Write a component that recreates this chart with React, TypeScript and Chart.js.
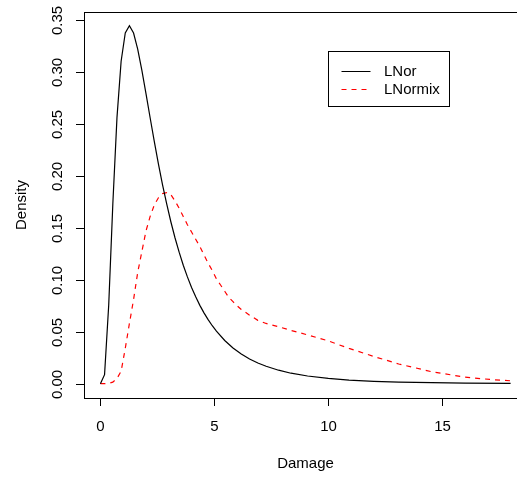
import React, { useEffect, useRef } from "react";
import { Chart, registerables } from "chart.js";

Chart.register(...registerables);

// LNor density
const lnorX = [0, 0.182, 0.364, 0.545, 0.727, 0.909, 1.091, 1.273, 1.455, 1.636, 1.818, 2.0, 2.182, 2.364, 2.545, 2.727, 2.909, 3.091, 3.273, 3.455, 3.636, 3.818, 4.0, 4.182, 4.364, 4.545, 4.727, 4.909, 5.091, 5.455, 5.818, 6.182, 6.545, 6.909, 7.273, 7.818, 8.364, 9.091, 10.0, 10.909, 12.0, 13.091, 14.545, 16.0, 18.0];
const lnorY = [0, 0.0087, 0.0755, 0.173, 0.2561, 0.3104, 0.3376, 0.3445, 0.3376, 0.3221, 0.3018, 0.2792, 0.256, 0.2333, 0.2117, 0.1915, 0.173, 0.1559, 0.1405, 0.1266, 0.114, 0.1028, 0.0926, 0.0836, 0.0754, 0.0682, 0.0617, 0.0558, 0.0506, 0.0416, 0.0344, 0.0286, 0.0238, 0.0199, 0.0168, 0.013, 0.0101, 0.0074, 0.0051, 0.0035, 0.0023, 0.0016, 0.001, 0.0006, 0.0003];

// LNormix density
const mixX = [0, 0.182, 0.364, 0.545, 0.727, 0.909, 1.091, 1.273, 1.455, 1.636, 1.818, 2.0, 2.182, 2.364, 2.545, 2.727, 2.909, 3.091, 3.273, 3.455, 3.636, 3.818, 4.0, 4.182, 4.364, 4.545, 4.727, 4.909, 5.091, 5.273, 5.455, 5.636, 5.818, 6.0, 6.182, 6.545, 6.909, 7.273, 7.818, 8.364, 9.091, 10.0, 10.909, 12.0, 13.091, 14.545, 16.0, 17.091, 18.0];
const mixY = [0, 0, 0.0003, 0.0015, 0.005, 0.012, 0.034, 0.058, 0.081, 0.107, 0.127, 0.147, 0.161, 0.172, 0.179, 0.183, 0.184, 0.182, 0.176, 0.169, 0.161, 0.153, 0.146, 0.139, 0.132, 0.124, 0.116, 0.109, 0.101, 0.095, 0.089, 0.083, 0.079, 0.075, 0.0715, 0.066, 0.061, 0.058, 0.0548, 0.0513, 0.047, 0.0412, 0.034, 0.0262, 0.019, 0.0115, 0.0063, 0.0041, 0.0028];

const seriesNames = ["LNor", "LNormix"];
const seriesColors = ["#000000", "#ff0000"];
const xTicks = [0, 5, 10, 15];
const xTickLabels = ["0", "5", "10", "15"];
const yTicks = [0, 0.05, 0.1, 0.15, 0.2, 0.25, 0.3, 0.35];
const yTickLabels = ["0.00", "0.05", "0.10", "0.15", "0.20", "0.25", "0.30", "0.35"];
const xTitle = "Damage";
const yTitle = "Density";
const legendAt = { x: 10, y: 0.32 };

export default function App() {
  const ref = useRef<HTMLCanvasElement>(null);

  useEffect(() => {
    if (!ref.current) return;
    const font = '15px "Liberation Sans", Arial, sans-serif';

    const frame = {
      id: "rframe",
      afterDatasetsDraw(chart: any) {
        const { ctx, chartArea: a, scales } = chart;
        const xs = scales.x;
        const ys = scales.y;
        ctx.save();
        ctx.strokeStyle = "#000";
        ctx.lineWidth = 1;
        ctx.fillStyle = "#000";
        ctx.font = font;
        // box
        ctx.strokeRect(Math.round(a.left) + 0.5, Math.round(a.top) + 0.5, Math.round(a.right - a.left), Math.round(a.bottom - a.top));
        // x ticks
        ctx.textAlign = "center";
        ctx.textBaseline = "middle";
        xTicks.forEach((v, i) => {
          const px = Math.round(xs.getPixelForValue(v)) + 0.5;
          ctx.beginPath();
          ctx.moveTo(px, a.bottom);
          ctx.lineTo(px, a.bottom + 8);
          ctx.stroke();
          ctx.fillText(xTickLabels[i], px, a.bottom + 29);
        });
        // y ticks
        yTicks.forEach((v, i) => {
          const py = Math.round(ys.getPixelForValue(v)) + 0.5;
          ctx.beginPath();
          ctx.moveTo(a.left - 8, py);
          ctx.lineTo(a.left, py);
          ctx.stroke();
          ctx.save();
          ctx.translate(a.left - 26, py);
          ctx.rotate(-Math.PI / 2);
          ctx.fillText(yTickLabels[i], 0, 0);
          ctx.restore();
        });
        // titles
        ctx.fillText(xTitle, (a.left + a.right) / 2, a.bottom + 66);
        ctx.save();
        ctx.translate(a.left - 62, (a.top + a.bottom) / 2);
        ctx.rotate(-Math.PI / 2);
        ctx.fillText(yTitle, 0, 0);
        ctx.restore();
        // legend
        const lx = Math.round(xs.getPixelForValue(legendAt.x)) + 0.5;
        const ly = Math.round(ys.getPixelForValue(legendAt.y)) + 0.5;
        ctx.strokeRect(lx, ly, 121, 55);
        ctx.textAlign = "left";
        seriesNames.forEach((name, i) => {
          const ry = Math.round(ly + 19 + i * 18.3) + 0.5;
          ctx.save();
          ctx.strokeStyle = seriesColors[i];
          if (i === 1) ctx.setLineDash([5, 5]);
          ctx.beginPath();
          ctx.moveTo(lx + 13, ry);
          ctx.lineTo(lx + 42, ry);
          ctx.stroke();
          ctx.restore();
          ctx.fillText(name, lx + 55.5, ry);
        });
        ctx.restore();
      },
    };

    const chart = new Chart(ref.current, {
      type: "line",
      data: {
        datasets: [
          {
            label: seriesNames[0],
            data: lnorX.map((x, i) => ({ x, y: lnorY[i] })),
            borderColor: seriesColors[0],
            borderWidth: 1.2,
            pointRadius: 0,
            tension: 0,
            fill: false,
          },
          {
            label: seriesNames[1],
            data: mixX.map((x, i) => ({ x, y: mixY[i] })),
            borderColor: seriesColors[1],
            borderWidth: 1.2,
            borderDash: [5, 5],
            pointRadius: 0,
            tension: 0,
            fill: false,
          },
        ],
      },
      options: {
        animation: false,
        responsive: false,
        devicePixelRatio: 1,
        layout: { padding: { left: 84, top: 12, right: 13, bottom: 79 } },
        plugins: { legend: { display: false }, tooltip: { enabled: false } },
        scales: {
          x: { type: "linear", min: -0.72, max: 18.72, display: false },
          y: { type: "linear", min: -0.01376, max: 0.3578, display: false },
        },
      },
      plugins: [frame],
    });
    return () => chart.destroy();
  }, []);

  return (
    <div style={{ position: "fixed", left: 0, top: 0, width: 517, height: 477, overflow: "hidden", background: "#fff" }}>
      <canvas ref={ref} width={540} height={477} style={{ width: 540, height: 477, display: "block" }} />
    </div>
  );
}
